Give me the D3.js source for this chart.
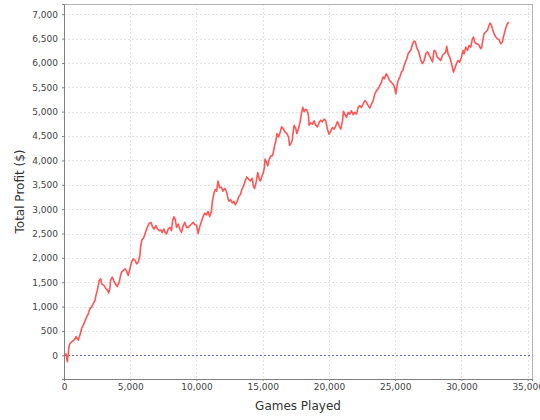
<!DOCTYPE html>
<html>
<head>
<meta charset="utf-8">
<script src="https://cdn.jsdelivr.net/npm/d3@7"></script>
<style>
  body { margin: 0; background: #fff; }
  #svg { width: 540px; height: 420px; display: block; }
  text { font-family: "DejaVu Sans", sans-serif; }
</style>
</head>
<body>
<svg id="svg" width="540" height="420"></svg>
<script>
// games played (x) and running profit in $ (y)
var gamesPlayed = [
  0, 151, 251, 377, 452, 603, 754, 905, 1081, 1206, 1332, 1458, 1659, 1834, 1960, 2086,
  2211, 2337, 2412, 2513, 2664, 2764, 2865, 3016, 3166, 3292, 3367, 3468, 3518, 3644, 3770, 3895,
  4021, 4172, 4272, 4347, 4473, 4599, 4724, 4850, 4976, 5101, 5227, 5378, 5478, 5604, 5730, 5780,
  5880, 6031, 6157, 6283, 6433, 6559, 6685, 6810, 6936, 7062, 7187, 7313, 7413, 7539, 7640, 7740,
  7866, 7991, 8117, 8192, 8293, 8393, 8494, 8620, 8745, 8871, 8997, 9122, 9248, 9373, 9499, 9625,
  9750, 9876, 10000, 10125, 10250, 10375, 10500, 10625, 10750, 10875, 11000, 11125, 11200, 11325, 11425, 11525,
  11625, 11750, 11875, 12000, 12125, 12250, 12375, 12450, 12575, 12700, 12825, 12925, 13075, 13200, 13325, 13425,
  13550, 13675, 13800, 13950, 14075, 14200, 14300, 14375, 14500, 14625, 14750, 14825, 14950, 15050, 15125, 15175,
  15300, 15375, 15500, 15625, 15750, 15825, 15900, 16000, 16075, 16200, 16325, 16425, 16550, 16675, 16825, 16950,
  17025, 17125, 17225, 17300, 17375, 17500, 17575, 17700, 17825, 17925, 18025, 18125, 18225, 18325, 18450, 18500,
  18625, 18750, 18875, 19000, 19125, 19250, 19375, 19500, 19637, 19762, 19888, 20014, 20140, 20266, 20392, 20518,
  20644, 20770, 20896, 21022, 21097, 21198, 21324, 21450, 21576, 21701, 21827, 21953, 22079, 22205, 22331, 22457,
  22583, 22709, 22835, 22961, 23087, 23213, 23339, 23465, 23591, 23717, 23843, 23969, 24069, 24194, 24320, 24446,
  24572, 24698, 24824, 24950, 25050, 25126, 25227, 25352, 25478, 25579, 25680, 25780, 25881, 25982, 26083, 26183,
  26300, 26420, 26520, 26650, 26750, 26813, 26939, 27065, 27191, 27317, 27443, 27569, 27695, 27821, 27935, 28061,
  28187, 28313, 28439, 28565, 28691, 28817, 28892, 28993, 29119, 29194, 29320, 29396, 29496, 29622, 29748, 29874,
  30000, 30126, 30201, 30327, 30453, 30579, 30705, 30831, 30906, 31007, 31107, 31209, 31335, 31460, 31536, 31637,
  31712, 31838, 31964, 32090, 32165, 32266, 32342, 32467, 32593, 32719, 32845, 32971, 33097, 33172, 33273, 33373,
  33474, 33575
];
var totalProfit = [
  0, 27, -129, 177, 245, 279, 313, 381, 313, 415, 551, 619, 755, 857, 959, 993,
  1061, 1129, 1231, 1333, 1537, 1571, 1456, 1435, 1367, 1333, 1279, 1388, 1537, 1605, 1524, 1456,
  1415, 1503, 1640, 1708, 1742, 1776, 1728, 1640, 1776, 1912, 1980, 1946, 1878, 1912, 2048, 2218,
  2367, 2422, 2524, 2626, 2708, 2728, 2640, 2592, 2660, 2592, 2558, 2572, 2517, 2592, 2524, 2490,
  2592, 2626, 2558, 2748, 2844, 2796, 2626, 2694, 2592, 2524, 2660, 2728, 2626, 2626, 2660, 2694,
  2728, 2680, 2675, 2501, 2640, 2744, 2848, 2918, 2883, 2953, 2848, 2953, 3161, 3334, 3404, 3369,
  3577, 3438, 3452, 3369, 3425, 3369, 3230, 3161, 3196, 3126, 3161, 3092, 3161, 3265, 3300, 3404,
  3473, 3577, 3661, 3612, 3577, 3633, 3473, 3425, 3543, 3751, 3612, 3577, 3681, 3751, 3855, 4028,
  3959, 3889, 4028, 4098, 4098, 4202, 4306, 4410, 4549, 4480, 4584, 4688, 4653, 4584, 4549, 4480,
  4306, 4341, 4410, 4584, 4722, 4653, 4549, 4653, 4792, 4965, 5090, 5000, 5049, 5035, 4931, 4722,
  4771, 4743, 4813, 4722, 4688, 4771, 4827, 4792, 4848, 4813, 4641, 4537, 4606, 4675, 4641, 4710,
  4799, 4710, 4641, 4813, 5006, 4951, 4882, 4986, 4951, 5020, 4937, 4986, 4951, 5089, 5124, 5089,
  5158, 5227, 5193, 5124, 5075, 5158, 5227, 5365, 5434, 5469, 5538, 5607, 5710, 5676, 5779, 5724,
  5641, 5607, 5572, 5503, 5365, 5503, 5641, 5710, 5814, 5848, 5952, 6021, 6090, 6193, 6228, 6262,
  6380, 6450, 6430, 6300, 6250, 6193, 6055, 5986, 6055, 6193, 6228, 6159, 6090, 6021, 6257, 6223,
  6119, 6085, 6051, 6154, 6188, 6223, 6340, 6188, 6119, 6051, 5913, 5810, 5879, 5982, 6051, 6016,
  6119, 6257, 6188, 6326, 6257, 6360, 6326, 6498, 6532, 6429, 6395, 6395, 6360, 6291, 6326, 6498,
  6601, 6635, 6670, 6773, 6821, 6773, 6704, 6601, 6532, 6498, 6477, 6395, 6429, 6532, 6635, 6739,
  6807, 6842
];
var xTicks = [0, 5000, 10000, 15000, 20000, 25000, 30000, 35000];
var yTicks = [0, 500, 1000, 1500, 2000, 2500, 3000, 3500, 4000, 4500, 5000, 5500, 6000, 6500, 7000];

var data = gamesPlayed.map(function (g, i) { return [g, totalProfit[i]]; });

var svg = d3.select("#svg");
var padding = { top: 4, right: 8, bottom: 41, left: 64 };
var W = 540 - padding.left - padding.right;
var H = 420 - padding.top - padding.bottom;

var xScale = d3.scaleLinear().domain([0, 35330]).range([0, W]);
var yScale = d3.scaleLinear().domain([-486, 7210]).range([H, 0]);
var fmt = d3.format(",");

var g = svg.append("g")
  .attr("transform", "translate(" + padding.left + "," + padding.top + ")");

// gridlines
g.selectAll(".vgrid").data(xTicks.filter(function (d) { return d > 0; }))
  .enter().append("line")
  .attr("x1", function (d) { return Math.round(xScale(d)) + 0.5; })
  .attr("x2", function (d) { return Math.round(xScale(d)) + 0.5; })
  .attr("y1", 0).attr("y2", H)
  .attr("stroke", "#e2e2e2").attr("stroke-dasharray", "2,2");

g.selectAll(".hgrid").data(yTicks.filter(function (d) { return d > 0; }))
  .enter().append("line")
  .attr("x1", 0).attr("x2", W)
  .attr("y1", function (d) { return Math.round(yScale(d)) + 0.5; })
  .attr("y2", function (d) { return Math.round(yScale(d)) + 0.5; })
  .attr("stroke", "#e2e2e2").attr("stroke-dasharray", "2,2");

// zero marker
g.append("line")
  .attr("x1", 0).attr("x2", W)
  .attr("y1", Math.round(yScale(0)) + 0.5).attr("y2", Math.round(yScale(0)) + 0.5)
  .attr("stroke", "#6a6ad8").attr("stroke-dasharray", "2,2");

// outline
g.append("rect")
  .attr("x", 0.5).attr("y", 0.5).attr("width", W).attr("height", H)
  .attr("fill", "none").attr("stroke", "#b4b4b4");

// series
var line = d3.line()
  .x(function (d) { return xScale(d[0]); })
  .y(function (d) { return yScale(d[1]); });

g.append("path")
  .datum(data)
  .attr("d", line)
  .attr("fill", "none")
  .attr("stroke", "#ff5555")
  .attr("stroke-width", 1.6)
  .attr("stroke-linejoin", "round");

// axes
var xAxis = g.append("g")
  .attr("transform", "translate(0," + H + ")")
  .call(d3.axisBottom(xScale).tickValues(xTicks).tickFormat(fmt).tickSize(2).tickPadding(3));
var yAxis = g.append("g")
  .call(d3.axisLeft(yScale).tickValues(yTicks).tickFormat(fmt).tickSize(2).tickPadding(4));

[xAxis, yAxis].forEach(function (a) {
  a.select(".domain").attr("stroke", "#808080");
  a.selectAll(".tick line").attr("stroke", "#808080");
  a.selectAll(".tick text")
    .attr("fill", "#444")
    .style("font-size", "9px")
    .style("font-family", "'DejaVu Sans', sans-serif");
});

svg.append("text")
  .attr("x", padding.left + W / 2)
  .attr("y", 410)
  .attr("text-anchor", "middle")
  .attr("fill", "#333")
  .style("font-size", "12px")
  .text("Games Played");

svg.append("text")
  .attr("transform", "translate(24," + (padding.top + H / 2) + ") rotate(-90)")
  .attr("text-anchor", "middle")
  .attr("fill", "#333")
  .style("font-size", "12px")
  .text("Total Profit ($)");
</script>
</body>
</html>
